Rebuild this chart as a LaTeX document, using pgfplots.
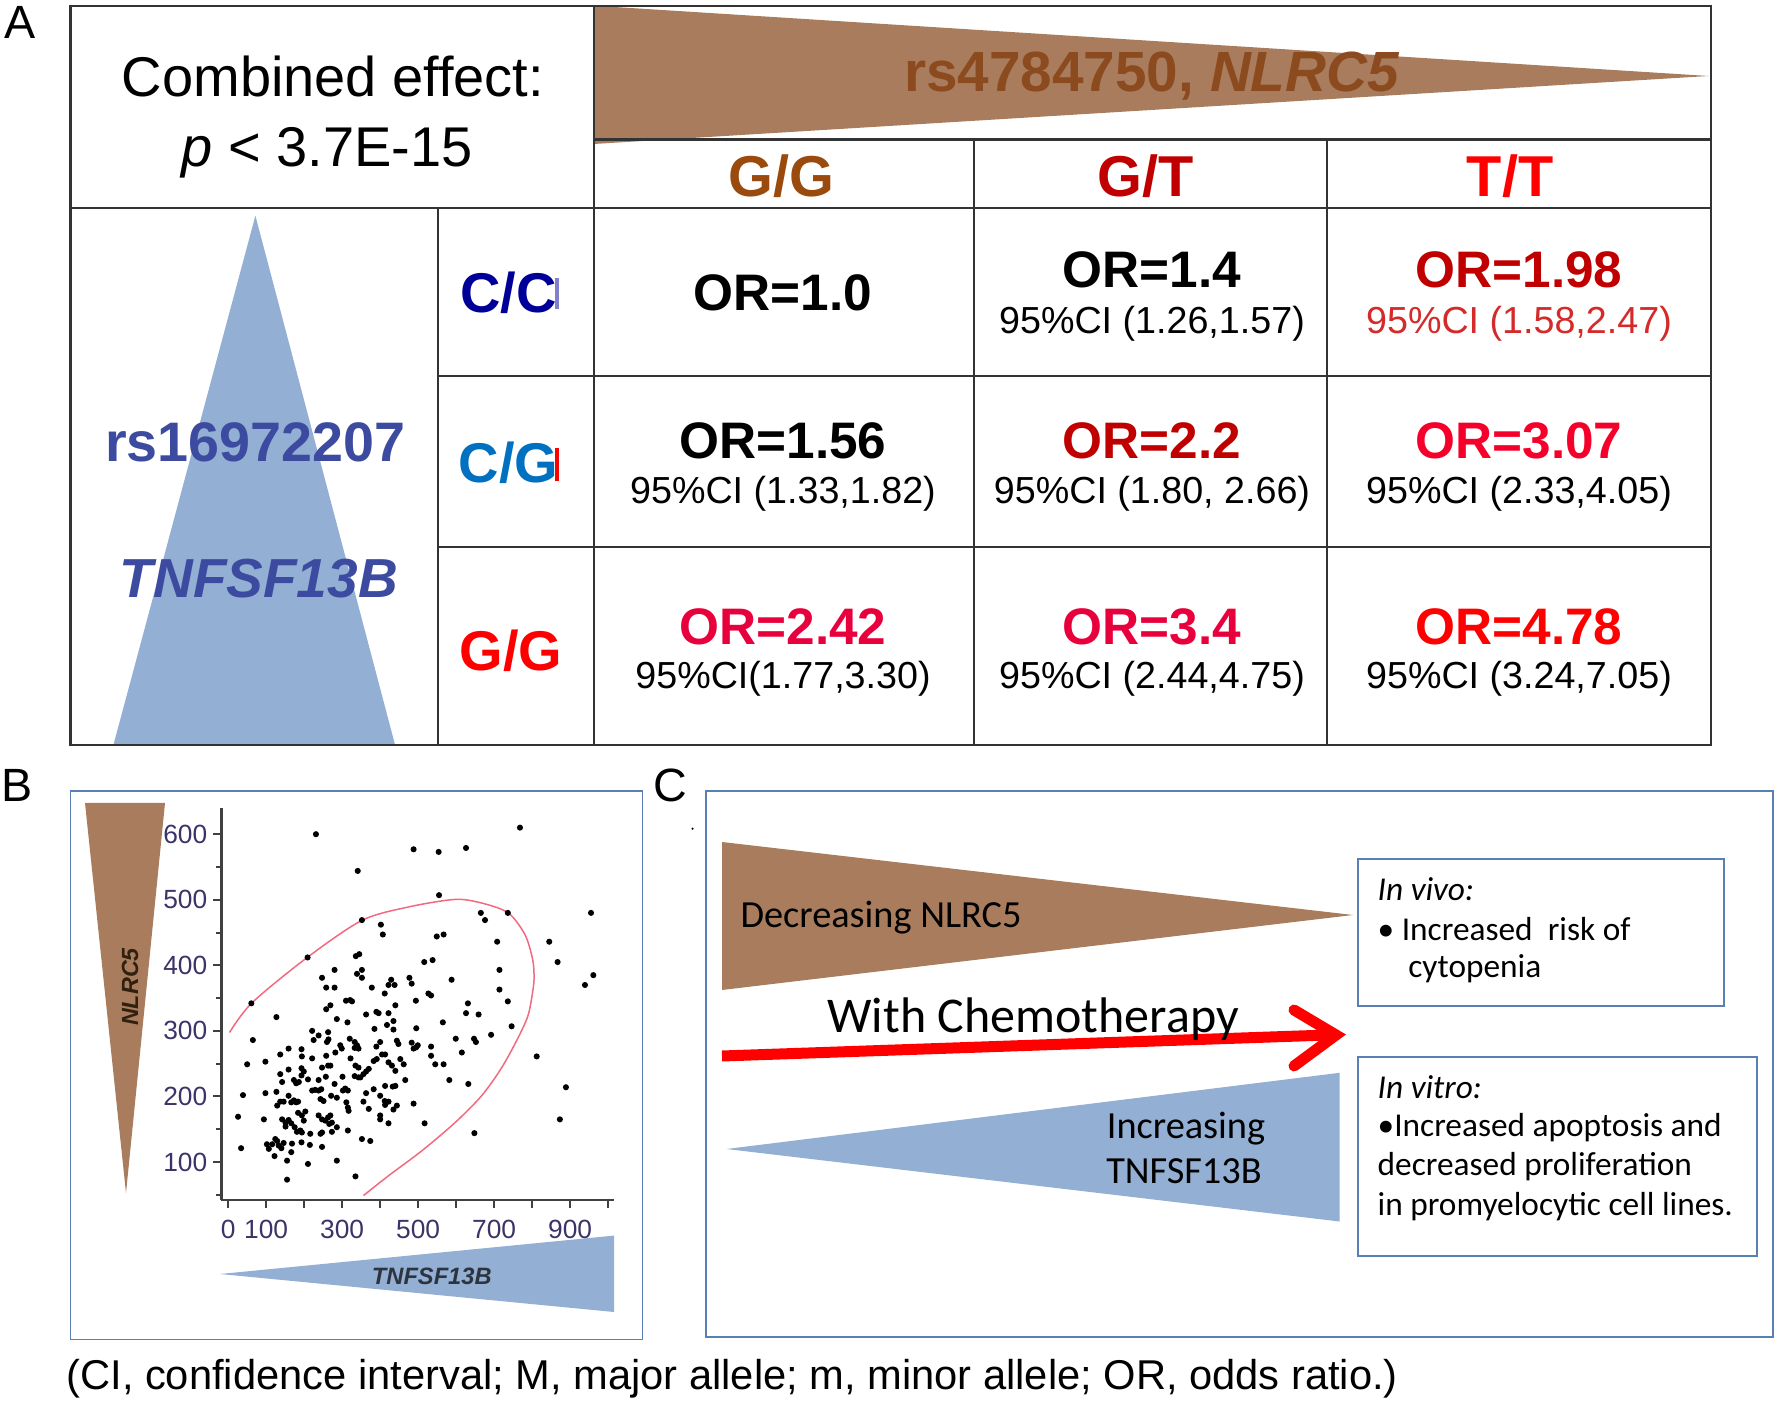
\documentclass[border=0pt]{standalone}
\usepackage{pgfplots}
\pgfplotsset{compat=1.18}
\usepackage{fontspec}
\setmainfont{Liberation Sans}
\newfontfamily\calibri{Carlito}
\definecolor{brownT}{HTML}{A87C5C}
\definecolor{blueT}{HTML}{93AFD3}
\definecolor{brownTxt}{HTML}{8C4A1F}
\definecolor{hdrGG}{HTML}{9A4A0C}
\definecolor{darkred}{HTML}{C00000}
\definecolor{navyC}{HTML}{000099}
\definecolor{blueCG}{HTML}{0070C0}
\definecolor{indigoT}{HTML}{3C4BA0}
\definecolor{pinkred}{HTML}{E8003C}
\definecolor{red307}{HTML}{F5002A}
\definecolor{ciRed}{HTML}{D42A2A}
\definecolor{boxblue}{HTML}{5A7FB5}
\definecolor{axislab}{HTML}{3A3468}
\definecolor{ellred}{HTML}{F26A80}
\definecolor{gridc}{HTML}{333333}
\newcommand\fsz[1]{\fontsize{#1pt}{#1pt}\selectfont}
\begin{document}
\begin{tikzpicture}[x=0.3pt,y=-0.3pt]
\useasboundingbox (0,0) rectangle (1780,1401);
% ================= Panel A =================
\node[font=\fsz{14}] at (20,22) {A};
\fill[brownT] (593.7,5.7) -- (593.7,144) -- (1708.5,76) -- cycle;
\fill[blueT] (255.4,215.7) -- (395,744.7) -- (113.5,744.7) -- cycle;
\begin{scope}[draw=gridc, line width=0.7pt]
\draw (70.4,5.7) rectangle (1710.7,744.7);
\draw (70.4,207.7) -- (1710.7,207.7);
\draw (593.7,5.7) -- (593.7,744.7);
\draw (593.7,139.6) -- (1710.7,139.6);
\draw (974,139.6) -- (974,744.7);
\draw (1327,139.6) -- (1327,744.7);
\draw (438.2,207.7) -- (438.2,744.7);
\draw (438.2,375.8) -- (1710.7,375.8);
\draw (438.2,547.2) -- (1710.7,547.2);
\end{scope}
\node[font=\fsz{16.8}] at (333,76) {Combined effect:};
\node[font=\fsz{16.8}] at (327,153) {\itshape p\upshape\ < 3.7E-15};
\node[font=\fsz{17}\bfseries, text=brownTxt] at (1152,76) {rs4784750, \textit{NLRC5}};
\node[font=\fsz{17.3}\bfseries, text=hdrGG] at (781,176) {G/G};
\node[font=\fsz{17.3}\bfseries, text=darkred] at (1146,176) {G/T};
\node[font=\fsz{17.3}\bfseries, text=red] at (1510,176) {T/T};
\node[font=\fsz{16.7}\bfseries, text=indigoT] at (255.4,442.7) {rs16972207};
\node[font=\fsz{16.5}\bfseries\itshape, text=indigoT] at (258.8,579) {TNFSF13B};
\node[font=\fsz{16.8}\bfseries, text=navyC] at (508.6,293) {C/C};
\fill[color=navyC!50] (555,278) rectangle (558.5,309);
\node[font=\fsz{16.8}\bfseries, text=blueCG] at (508.6,463) {C/G};
\fill[red] (555,448) rectangle (559,481);
\node[font=\fsz{16.8}\bfseries, text=red] at (510.8,650.5) {G/G};
\node[font=\fsz{15.4}\bfseries] at (783,293) {OR=1.0};
\node[font=\fsz{15.4}\bfseries] at (1152,270) {OR=1.4};
\node[font=\fsz{11.3}] at (1152,323.5) {95\%CI (1.26,1.57)};
\node[font=\fsz{15.4}\bfseries, text=darkred] at (1519,270) {OR=1.98};
\node[font=\fsz{11.3}, text=ciRed] at (1519,323.5) {95\%CI (1.58,2.47)};
\node[font=\fsz{15.4}\bfseries] at (783,440.5) {OR=1.56};
\node[font=\fsz{11.3}] at (783,494) {95\%CI (1.33,1.82)};
\node[font=\fsz{15.4}\bfseries, text=darkred] at (1152,440.5) {OR=2.2};
\node[font=\fsz{11.3}] at (1152,494) {95\%CI (1.80, 2.66)};
\node[font=\fsz{15.4}\bfseries, text=red307] at (1519,440.5) {OR=3.07};
\node[font=\fsz{11.3}] at (1519,494) {95\%CI (2.33,4.05)};
\node[font=\fsz{15.4}\bfseries, text=pinkred] at (783,626.6) {OR=2.42};
\node[font=\fsz{11.3}] at (783,679) {95\%CI(1.77,3.30)};
\node[font=\fsz{15.4}\bfseries, text=pinkred] at (1152,626.6) {OR=3.4};
\node[font=\fsz{11.3}] at (1152,679) {95\%CI (2.44,4.75)};
\node[font=\fsz{15.4}\bfseries, text=red] at (1519,626.6) {OR=4.78};
\node[font=\fsz{11.3}] at (1519,679) {95\%CI (3.24,7.05)};
% ================= Panel B =================
\node[font=\fsz{14}] at (17,785) {B};
\draw[boxblue, line width=0.5pt] (70.4,791.2) rectangle (642.5,1339.5);
\fill[brownT] (85,803) -- (165,803) -- (126,1193) -- cycle;
\node[font=\fsz{7}\bfseries\itshape, text=black!75!brown, rotate=90] at (130,987) {NLRC5};
\fill[blueT] (220,1274) -- (614,1235.6) -- (614,1312) -- cycle;
\node[font=\fsz{7.1}\bfseries\itshape, text=black!70!blueT] at (431.8,1276) {TNFSF13B};
\begin{axis}[
  at={(66.4pt,-360pt)}, anchor=south west,
  scale only axis, width=117.75pt, height=117.6pt,
  xmin=-18, xmax=1015, ymin=42, ymax=640,
  axis lines=left, axis line style={-, draw=black!75, line width=0.7pt},
  xtick={0,100,...,1000}, xticklabels={0,100,,300,,500,,700,,900,},
  ytick={100,200,...,600}, minor ytick={50,150,...,550},
  tick align=outside, major tick length=2.5pt, minor tick length=1.5pt,
  tick style={black!75, line width=0.6pt},
  ticklabel style={font=\fsz{7.9}, text=axislab},
  yticklabel style={xshift=1.8pt},
  /pgf/number format/assume math mode=true,
]
\addplot[smooth, color=ellred, line width=0.45pt] coordinates {
(3.5,297.5) (63,343) (207.5,411.7) (352,468.5) (474.6,489) (597,500.5) (667,495) (737,480) (781,447) (801,410) (805,386) (803,366) (790,325) (763.5,290) (720,244) (667,201) (597,160) (509.6,117) (422,79) (356,48.7)};
\addplot[only marks, mark=*, mark size=0.7pt, black] coordinates {
(231,600) (488,577) (554,573) (626,579) (768,610) (341,544) (555,507) (352,469) (402,462) (407,447) (665,480) (736,480) (676,469) (955,480) (549,444) (567,447) (708,436) (845,436)
(209,412) (336,414) (345,417) (516,405) (538,408) (867,405) (280,393) (352,393) (339,387) (352,381) (247,381) (429,378) (477,381) (483,372) (588,378) (714,393) (961,385) (939,370) (258,366) (280,366) (378,366) (422,370) (438,370) (714,363)
(412,357) (527,357) (534,354) (61,342) (310,346) (321,347) (326,345) (269,339) (258,333) (440,339) (494,346) (736,345) (631,342) (626,327) (659,325) (363,325) (390,329) (396,327) (422,327) (127,321)
(286,318) (314,313) (418,309) (435,315) (385,303) (435,302) (495,304) (565,313) (746,307) (221,300) (238,293) (263,298) (65,286)
(599,288) (647,288) (652,283) (692,294) (615,267) (545,249) (567,249) (812,261) (582,225) (632,219) (889,214) (873,165) (517,159) (648,144) (534,276) (534,262)
(225,286) (264,287) (260,283) (295,278) (299,273) (320,288) (333,283) (339,278) (333,274) (343,273) (390,276) (400,283) (444,285) (448,280) (483,282) (488,273) (495,275) (499,278) (159,273) (193,272) (137,264) (194,261) (221,258) (258,262) (282,267) (322,258) (405,264) (413,264) (50,249) (98,253) (383,254) (391,257) (422,252) (453,257) (462,249) (335,247) (343,244) (431,247)
(440,239) (356,234) (363,238) (348,229) (370,242) (333,231) (343,229) (466,225) (137,234) (159,241) (142,222) (173,225) (179,220) (186,222) (193,243) (199,238) (193,232) (210,226) (238,225) (247,244) (263,247) (269,247) (257,230) (280,219) (301,230) (221,209) (229,210) (238,209) (245,211) (302,209) (308,212) (315,209) (271,201) (363,205) (383,211) (413,216) (433,215) (440,216) (400,201) (98,205) (127,207) (39,202) (159,201) (286,198) (243,196)
(251,193) (311,191) (315,183) (317,178) (356,192) (370,181) (412,193) (413,187) (422,192) (435,180) (444,186) (400,171) (400,165) (422,159) (488,189) (129,186) (137,192) (146,192) (166,191) (173,194) (179,191) (184,192) (26,169) (94,165) (184,175) (194,171) (203,177) (199,163) (238,171) (247,165) (256,163) (263,168) (269,171) (273,160) (266,158) (142,165) (151,160) (151,154) (159,164) (166,159) (175,153) (181,146) (190,148) (194,145) (216,143) (247,145) (243,143) (273,146) (286,153) (315,148) (124,135)
(352,135) (374,132) (102,127) (107,120) (116,127) (129,132) (133,125) (140,121) (122,109) (146,129) (168,128) (193,130) (215,126) (247,123) (34,121) (166,115) (155,102) (210,97) (286,102) (155,73) (335,78)};
\end{axis}
% ================= Panel C =================
\node[font=\fsz{14}] at (670,785) {C};
\fill (692.5,828.7) circle (1.2);
\draw[boxblue, line width=0.5pt] (706,791) rectangle (1773,1337.2);
\fill[brownT] (722,842) -- (722,990) -- (1353,915) -- cycle;
\node[font=\calibri\fsz{11.5}] at (881,918) {Decreasing NLRC5};
\draw[red, line width=3.3pt] (722,1056) -- (1328,1035);
\draw[red, line width=3.3pt, line cap=round, line join=miter] (1294,1010) -- (1336,1035) -- (1294,1066);
\node[font=\calibri\fsz{15}] at (1033,1019) {With Chemotherapy};
\fill[blueT] (726.5,1149) -- (1339.5,1072.8) -- (1339.5,1221.5) -- cycle;
\node[font=\calibri\fsz{11.5}] at (1186,1129) {Increasing};
\node[font=\calibri\fsz{11.5}] at (1184,1171) {TNFSF13B};
\draw[boxblue, line width=0.6pt] (1357.7,859.3) rectangle (1724.4,1005.8);
\draw[boxblue, line width=0.6pt] (1357.7,1056.9) rectangle (1757.3,1255.5);
\begin{scope}[every node/.style={font=\calibri\fsz{10}, anchor=west, inner sep=0}]
\node at (1377,889) {\itshape In vivo:};
\node at (1377,928.6) {\textbullet\ Increased \ risk of};
\node at (1407.6,968.3) {cytopenia};
\node at (1377,1087.5) {\itshape In vitro:};
\node at (1377,1127.3) {\textbullet Increased apoptosis and};
\node at (1377,1167) {decreased proliferation};
\node at (1377,1206.7) {in promyelocytic cell lines.};
\end{scope}
\node[font=\fsz{12.5}, anchor=west, inner sep=0] at (65.8,1379) {(CI, confidence interval; M, major allele; m, minor allele; OR, odds ratio.)};
\end{tikzpicture}
\end{document}
